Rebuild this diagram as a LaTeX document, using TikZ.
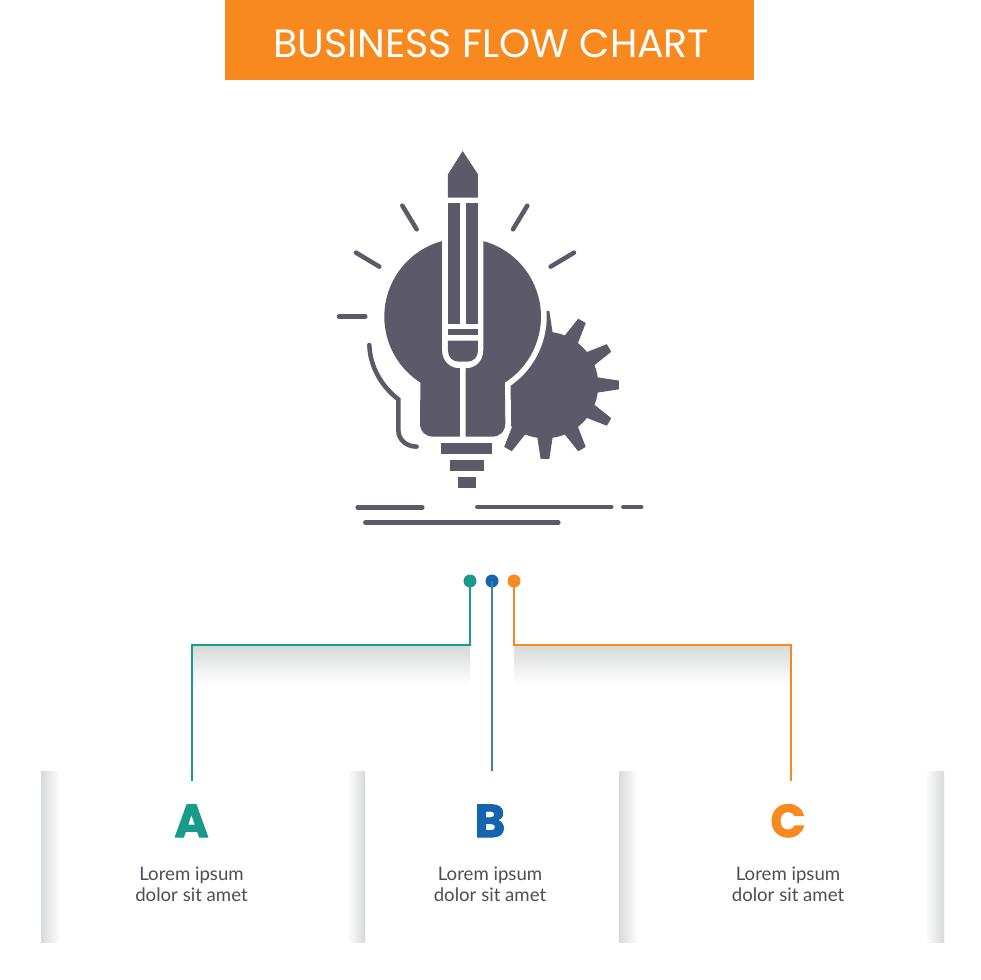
\documentclass[tikz,border=0pt]{standalone}
\usepackage{fontspec}
\setmainfont{Lato}
\newfontfamily\headfont{Poppins}
\newfontfamily\letterfont[FakeBold=2.2]{Poppins Bold}
\definecolor{orangeC}{HTML}{F7891F}
\definecolor{tealC}{HTML}{1A9A8A}
\definecolor{blueC}{HTML}{1565AE}
\definecolor{blueL}{HTML}{3F7FA8}
\definecolor{iconC}{HTML}{5C5A68}
\definecolor{textC}{HTML}{4D4D55}
\definecolor{fadeC}{HTML}{D8DAD9}
\tikzset{
  x=1pt,y=-1pt,
  dotnode/.style={circle,inner sep=0pt,minimum size=13pt},
  conn/.style={line width=1.3pt},
  ray/.style={draw=iconC,line width=4.5pt,line cap=round},
  letternode/.style={font=\letterfont\fontsize{46}{46}\selectfont,inner sep=0pt,anchor=base},
  bodytext/.style={font=\fontsize{18.6}{20.6}\selectfont,text=textC,align=center,inner sep=0pt,anchor=base},
}
\begin{document}
\begin{tikzpicture}
\useasboundingbox (0,0) rectangle (980,980);
\fill[white] (0,0) rectangle (980,980);
% header
\node[fill=orangeC,minimum width=529pt,minimum height=80pt,inner sep=0pt,anchor=north west] (header) at (225,0) {};
\node[font=\headfont\fontsize{39.5}{39.5}\selectfont,text=white,inner sep=0pt,anchor=base] (title) at (491.5,57) {BUSINESS FLOW CHART};
% panels
\foreach \xa/\xb/\xc/\xd in {41/60/347/365,619/638/925/944}{
  \shade[left color=fadeC,right color=white] (\xa,771) rectangle (\xb,942);
  \shade[left color=white,right color=fadeC] (\xc,771) rectangle (\xd,942);
}
% fades under connectors
\shade[top color=fadeC,bottom color=white] (193,646) rectangle (470,685);
\shade[top color=fadeC,bottom color=white] (514,646) rectangle (791,685);
% dots
\node[dotnode,fill=tealC] (dotA) at (470,581) {};
\node[dotnode,fill=blueC] (dotB) at (492,581) {};
\node[dotnode,fill=orangeC] (dotC) at (514,581) {};
\coordinate (a1) at (470,645); \coordinate (a2) at (192,645); \coordinate (a3) at (192,781);
\coordinate (b1) at (492,771);
\coordinate (c1) at (514,645); \coordinate (c2) at (791,645); \coordinate (c3) at (791,781);
\draw[conn,tealC] (dotA.center) -- (a1) -- (a2) -- (a3);
\draw[conn,blueL] (dotB.center) -- (b1);
\draw[conn,orangeC] (dotC.center) -- (c1) -- (c2) -- (c3);
% letters & text
\node[letternode,text=tealC] (la) at (191.5,837) {A};
\node[letternode,text=blueC] (lb) at (490,837) {B};
\node[letternode,text=orangeC] (lc) at (788,837) {C};
\node[bodytext] (ta) at (191.5,901) {Lorem ipsum\\dolor sit amet};
\node[bodytext] (tb) at (490,901) {Lorem ipsum\\dolor sit amet};
\node[bodytext] (tc) at (788,901) {Lorem ipsum\\dolor sit amet};
% icon
\begin{scope}[shift={(320,140)},x=0.3333pt,y=-0.3333pt]
  % gear
  \fill[iconC] (675,735) circle[radius=160];
  \foreach \a in {0,30,...,330}{
    \fill[iconC,shift={(675,735)},rotate=\a] (150,-24) -- (222,-13) -- (222,13) -- (150,24) -- cycle;
  }
  % bulb right half, with white halo
  \def\righthalf{(490.4,303.4) arc[start angle=-74.6,end angle=57.4,radius=235] -- (556,850) .. controls (556,875) and (540,890) .. (516,890) -- (437,890) -- (437,685) .. controls (466,685) and (490,665) .. (490,630) -- cycle}
  \draw[white,fill=white,line width=11.4pt] \righthalf;
  \fill[iconC] \righthalf;
  % bulb left half
  \fill[iconC] (365.6,303.4) arc[start angle=254.6,end angle=122.6,radius=235] -- (300,850) .. controls (300,875) and (316,890) .. (340,890) -- (420,890) -- (420,685) .. controls (391,685) and (366,665) .. (366,630) -- cycle;
  % base
  \fill[iconC] (364,908) rectangle (516,942);
  \fill[iconC] (389,960) rectangle (492,994);
  \fill[iconC] (413,1011) rectangle (468,1045);
  % pencil
  \fill[iconC] (428,33) -- (474,103) -- (474,173) -- (384,173) -- (384,103) -- cycle;
  \fill[iconC] (384,190) rectangle (420,552);
  \fill[iconC] (437,190) rectangle (474,552);
  \fill[iconC] (384,568) rectangle (474,585);
  \fill[iconC] (384,602) -- (474,602) -- (474,632) .. controls (474,652) and (460,665) .. (442,665) -- (416,665) .. controls (398,665) and (384,652) .. (384,632) -- cycle;
  % rays
  \draw[ray] (57,530) -- (136,530);
  \draw[ray] (108,338) -- (178,380);
  \draw[ray] (247,197) -- (290,268);
  \draw[ray] (622,197) -- (579,268);
  \draw[ray] (762,338) -- (692,380);
  % cord
  \draw[ray] (148,615) .. controls (150,680) and (185,740) .. (235,778) -- (235,870) .. controls (235,900) and (260,920) .. (290,920);
  % ground lines
  \draw[ray] (113,1103) -- (307,1103);
  \draw[ray] (472,1101) -- (874,1101);
  \draw[ray] (910,1101) -- (964,1101);
  \draw[ray] (136,1148) -- (715,1148);
\end{scope}
\end{tikzpicture}
\end{document}
